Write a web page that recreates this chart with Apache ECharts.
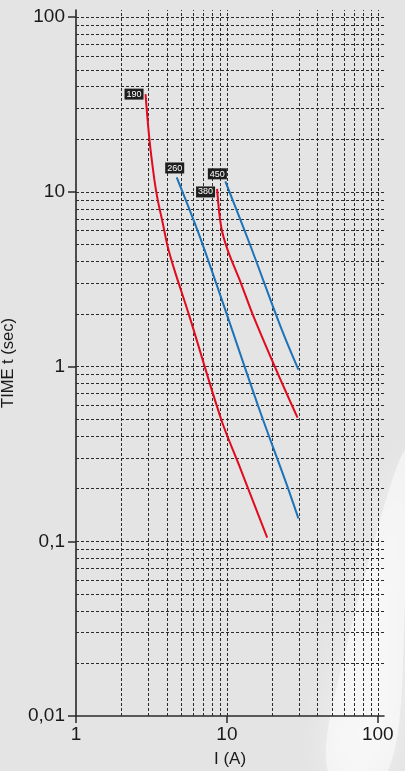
<!DOCTYPE html>
<html>
<head>
<meta charset="utf-8">
<script src="https://cdn.jsdelivr.net/npm/echarts@6/dist/echarts.min.js"></script>
<style>
html,body{margin:0;padding:0;background:#e4e4e4;}
#c{width:405px;height:771px;}
</style>
</head>
<body>
<div id="c"></div>
<script>
// Data (I in A, t in s)
var curve190 = [[2.89,36.3],[3.07,19.8],[3.31,11.7],[3.48,9.0],[3.76,6.62],[4.05,4.87],[4.49,3.58],[5.65,1.94],[9.16,0.50],[11.9,0.28],[18.5,0.105]];
var curve260 = [[4.65,12.1],[6.92,4.98],[16.4,0.57],[24.7,0.216],[29.8,0.135]];
var curve380 = [[8.61,10.4],[9.16,6.34],[10.1,4.67],[12.4,3.0],[14.8,2.0],[21.2,0.96],[25.9,0.65],[29.4,0.51]];
var curve450 = [[9.77,11.5],[14.1,5.1],[22.9,1.66],[29.8,0.96]];
var curveNames = ['190','260','380','450'];

var xTicks = [1,10,100];
var xTickLabels = ['1','10','100'];
var yTicks = [0.01,0.1,1,10,100];
var yTickLabels = ['0,01','0,1','1','10','100'];
var gridX = [2,3,4,5,6,7,8,9,10,20,30,40,50,60,70,80,90,100];
var gridY = [0.02,0.03,0.04,0.05,0.06,0.07,0.08,0.09,0.1,0.2,0.3,0.4,0.5,0.6,0.7,0.8,0.9,1,2,3,4,5,6,7,8,9,10,20,30,40,50,60,70,80,90,100];

var RED = '#e10a1e', BLUE = '#1d72b8';
var FONT = '"Liberation Sans",sans-serif';

function pickLabel(v, ticks, labels){
  var best = 0, bd = Infinity;
  for (var i=0;i<ticks.length;i++){ var d = Math.abs(Math.log10(v)-Math.log10(ticks[i])); if(d<bd){bd=d;best=i;} }
  return bd < 0.01 ? labels[best] : '';
}

function curveSeries(name, data, color, pos, offset, dist){
  return {
    name: name, type: 'line', data: data, smooth: 0.35, showSymbol: false, symbol: 'none',
    lineStyle: {color: color, width: 2}, z: 5, silent: true,
    markPoint: {
      silent: true, symbol: 'circle', symbolSize: 0, animation: false,
      data: [{coord: data[0], value: name}],
      label: {
        show: true, position: pos, offset: offset, distance: dist,
        formatter: name, color: '#fff', backgroundColor: '#1e1e1e',
        fontSize: 9, fontFamily: FONT, padding: [1,2,0,2], lineHeight: 10
      }
    }
  };
}

var chart = echarts.init(document.getElementById('c'));
var option = {
  backgroundColor: '#e4e4e4',
  animation: false,
  graphic: [{
    type: 'polygon', z: 0, silent: true,
    shape: {points: [[405,450],[405,600],[388,771],[328,771],[346,650]], smooth: 0.3},
    style: {fill: 'rgba(255,255,255,0.5)', shadowBlur: 35, shadowColor: 'rgba(255,255,255,0.9)'}
  }],
  grid: {left: 76, right: 21, top: 10, bottom: 55, containLabel: false, outerBoundsMode: 'none'},
  xAxis: {
    type: 'log', logBase: 10, min: 1, max: 110,
    name: 'I (A)', nameLocation: 'middle', nameGap: 35,
    nameTextStyle: {fontFamily: FONT, fontSize: 17, color: '#1a1a1a'},
    axisLine: {show: true, lineStyle: {color: '#2a2a2a', width: 1.5}},
    axisTick: {show: true, length: 7, lineStyle: {color: '#2a2a2a', width: 1.5}, customValues: xTicks},
    axisLabel: {customValues: xTicks, margin: 9, fontFamily: FONT, fontSize: 19, color: '#1a1a1a',
      formatter: function(v){ return pickLabel(v, xTicks, xTickLabels); }},
    splitLine: {show: false}, minorTick: {show:false}, minorSplitLine: {show:false}
  },
  yAxis: {
    type: 'log', logBase: 10, min: 0.01, max: 110,
    name: 'TIME t (sec)', nameLocation: 'middle', nameGap: 43, nameRotate: 90,
    nameTextStyle: {fontFamily: FONT, fontSize: 16.5, color: '#1a1a1a'},
    axisLine: {show: true, lineStyle: {color: '#1a1a1a', width: 1.5}},
    axisTick: {show: true, length: 8, lineStyle: {color: '#2a2a2a', width: 1.5}, customValues: yTicks},
    axisLabel: {customValues: yTicks, margin: 11, fontFamily: FONT, fontSize: 19, color: '#1a1a1a',
      formatter: function(v){ return pickLabel(v, yTicks, yTickLabels); }},
    splitLine: {show: false}, minorTick: {show:false}, minorSplitLine: {show:false}
  },
  series: [
    {
      type: 'line', data: [[1,0.01]], showSymbol: false, symbol: 'none', silent: true,
      lineStyle: {width: 0}, z: 3,
      markLine: {
        silent: true, symbol: 'none', animation: false,
        label: {show: false},
        lineStyle: {type: [3,2], color: '#2b2b2b', width: 1},
        data: gridX.map(function(v){return {xAxis: v};}).concat(gridY.map(function(v){return {yAxis: v};}))
      }
    },
    curveSeries(curveNames[0], curve190, RED, 'left', [0,0], 2),
    curveSeries(curveNames[1], curve260, BLUE, 'top', [-2,0], 4),
    curveSeries(curveNames[2], curve380, RED, 'left', [0,3], 2),
    curveSeries(curveNames[3], curve450, BLUE, 'top', [-8,0], 2)
  ]
};
chart.setOption(option);
</script>
</body>
</html>
